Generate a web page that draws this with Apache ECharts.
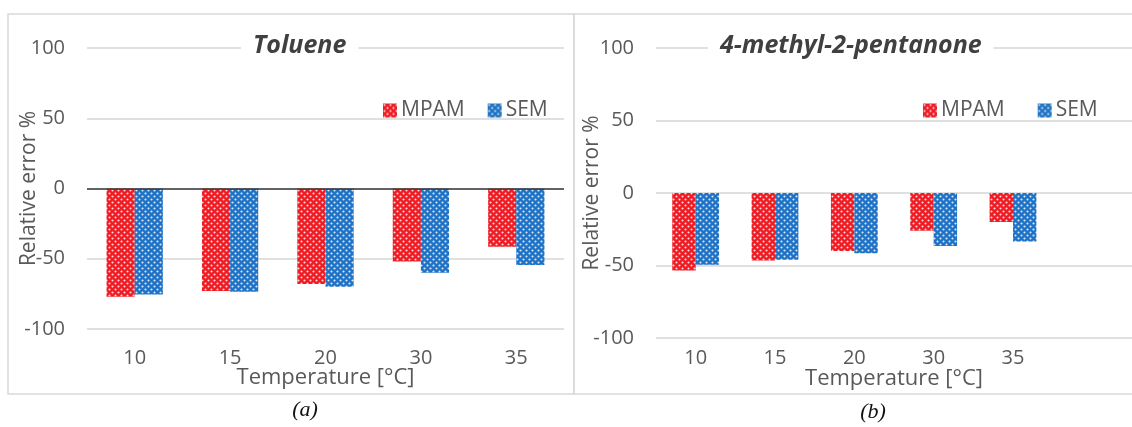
<!DOCTYPE html>
<html>
<head>
<meta charset="utf-8">
<script src="https://cdn.jsdelivr.net/npm/echarts@6/dist/echarts.min.js"></script>
<style>
  html, body { margin: 0; padding: 0; background: #fff; }
  #chart { width: 1132px; height: 427px; }
</style>
</head>
<body>
<div id="chart"></div>
<script>
// Temperatures (°C) on the x axis
const temperaturesA = ['10', '15', '20', '30', '35'];
const temperaturesB = ['10', '15', '20', '30', '35', ''];

// Relative error (%) — Toluene
const tolueneMPAM = [-77, -73, -68, -52, -41.5];
const tolueneSEM  = [-75.5, -73.5, -70, -60, -54.5];

// Relative error (%) — 4-methyl-2-pentanone
const ketoneMPAM = [-53.5, -46.5, -40, -26, -20];
const ketoneSEM  = [-49.5, -46, -41.5, -36.5, -33.5];

const seriesNames = ['MPAM', 'SEM'];
const panelTitles = ['Toluene', '4-methyl-2-pentanone'];
const panelTags = ['(a)', '(b)'];

// Dotted fill pattern (coloured ground with white holes)
function dottedPattern(color) {
  const c = document.createElement('canvas');
  c.width = 6; c.height = 6;
  const g = c.getContext('2d');
  g.fillStyle = color;
  g.fillRect(0, 0, 6, 6);
  g.fillStyle = 'rgba(255,255,255,0.85)';
  [[1.5, 1.5], [4.5, 4.5]].forEach(([x, y]) => {
    g.beginPath(); g.arc(x, y, 1.05, 0, Math.PI * 2); g.fill();
  });
  return { image: c, repeat: 'repeat' };
}
const redFill = dottedPattern('#ee1c24');
const blueFill = dottedPattern('#1f72c4');

const font = '"Open Sans", Lato, sans-serif';
const grey = '#595959';
const gridColor = '#d6d6d6';

function yAxis(gridIndex, nameGap) {
  return {
    type: 'value', gridIndex, min: -100, max: 100, interval: 50,
    name: 'Relative error %', nameLocation: 'middle', nameGap, nameMoveOverlap: false,
    nameTextStyle: { color: grey, fontSize: 21, fontFamily: font },
    axisLabel: { color: grey, fontSize: 20, fontFamily: font, margin: 22 },
    axisLine: { show: false }, axisTick: { show: false },
    splitLine: { lineStyle: { color: gridColor, width: 1.5 } }
  };
}
function xAxis(gridIndex, data, labelMargin, nameGap) {
  return {
    type: 'category', gridIndex, data, position: 'bottom',
    name: 'Temperature [°C]', nameLocation: 'middle', nameGap, nameMoveOverlap: false,
    nameTextStyle: { color: grey, fontSize: 22, fontFamily: font },
    axisLabel: { color: grey, fontSize: 20, fontFamily: font, margin: labelMargin, interval: 0 },
    axisLine: { show: false, onZero: false }, axisTick: { show: false }
  };
}
function bar(name, data, idx, fill) {
  return {
    type: 'bar', name, data, xAxisIndex: idx, yAxisIndex: idx,
    barGap: '0%', barCategoryGap: '41%',
    itemStyle: { color: fill }
  };
}

const chart = echarts.init(document.getElementById('chart'), null, { renderer: 'canvas' });

const zeroLine = {
  silent: true, symbol: 'none', label: { show: false },
  lineStyle: { color: '#3a3a3a', width: 1.5, type: 'solid' },
  data: [{ yAxis: 0 }]
};

const s0 = bar(seriesNames[0], tolueneMPAM, 0, redFill);
s0.markLine = zeroLine;

const titleStyle = { color: '#404040', fontSize: 25, fontStyle: 'italic', fontWeight: 'bold', fontFamily: font };

chart.setOption({
  animation: false,
  backgroundColor: '#fff',
  title: [
    { text: panelTitles[0], left: 241, top: 31, padding: [2, 12], backgroundColor: '#fff', textStyle: titleStyle },
    { text: panelTitles[1], left: 708, top: 31, padding: [2, 12], backgroundColor: '#fff', textStyle: titleStyle }
  ],
  legend: [
    { data: seriesNames, left: 378, top: 95, icon: 'rect', itemWidth: 14, itemHeight: 14, itemGap: 23,
      textStyle: { color: grey, fontSize: 21, fontFamily: font, padding: [0, 0, 0, -1] } },
    { data: seriesNames, left: 918, top: 95, icon: 'rect', itemWidth: 14, itemHeight: 14, itemGap: 33,
      textStyle: { color: grey, fontSize: 21, fontFamily: font, padding: [0, 0, 0, -1] } }
  ],
  grid: [
    { left: 87, right: 568, top: 48, bottom: 98 },
    { left: 656, right: -10, top: 48, bottom: 89 }
  ],
  xAxis: [
    xAxis(0, temperaturesA, 19, 38),
    xAxis(1, temperaturesB, 10, 30)
  ],
  yAxis: [
    yAxis(0, 47),
    yAxis(1, 53)
  ],
  series: [
    s0,
    bar(seriesNames[1], tolueneSEM, 0, blueFill),
    bar(seriesNames[0], ketoneMPAM, 1, redFill),
    bar(seriesNames[1], ketoneSEM, 1, blueFill)
  ],
  graphic: [
    { type: 'rect', silent: true, z: -1,
      shape: { x: 8, y: 14, width: 566, height: 380 },
      style: { fill: null, stroke: '#d9d9d9', lineWidth: 1.5 } },
    { type: 'rect', silent: true, z: -1,
      shape: { x: 574, y: 14, width: 566, height: 380 },
      style: { fill: null, stroke: '#d9d9d9', lineWidth: 1.5 } },
    { type: 'text', silent: true, x: 305, y: 410,
      style: { text: panelTags[0], align: 'center', verticalAlign: 'middle',
        font: 'italic 22px "Liberation Serif", "DejaVu Serif", serif', fill: '#111' } },
    { type: 'text', silent: true, x: 873, y: 412,
      style: { text: panelTags[1], align: 'center', verticalAlign: 'middle',
        font: 'italic 22px "Liberation Serif", "DejaVu Serif", serif', fill: '#111' } }
  ]
});
</script>
</body>
</html>
